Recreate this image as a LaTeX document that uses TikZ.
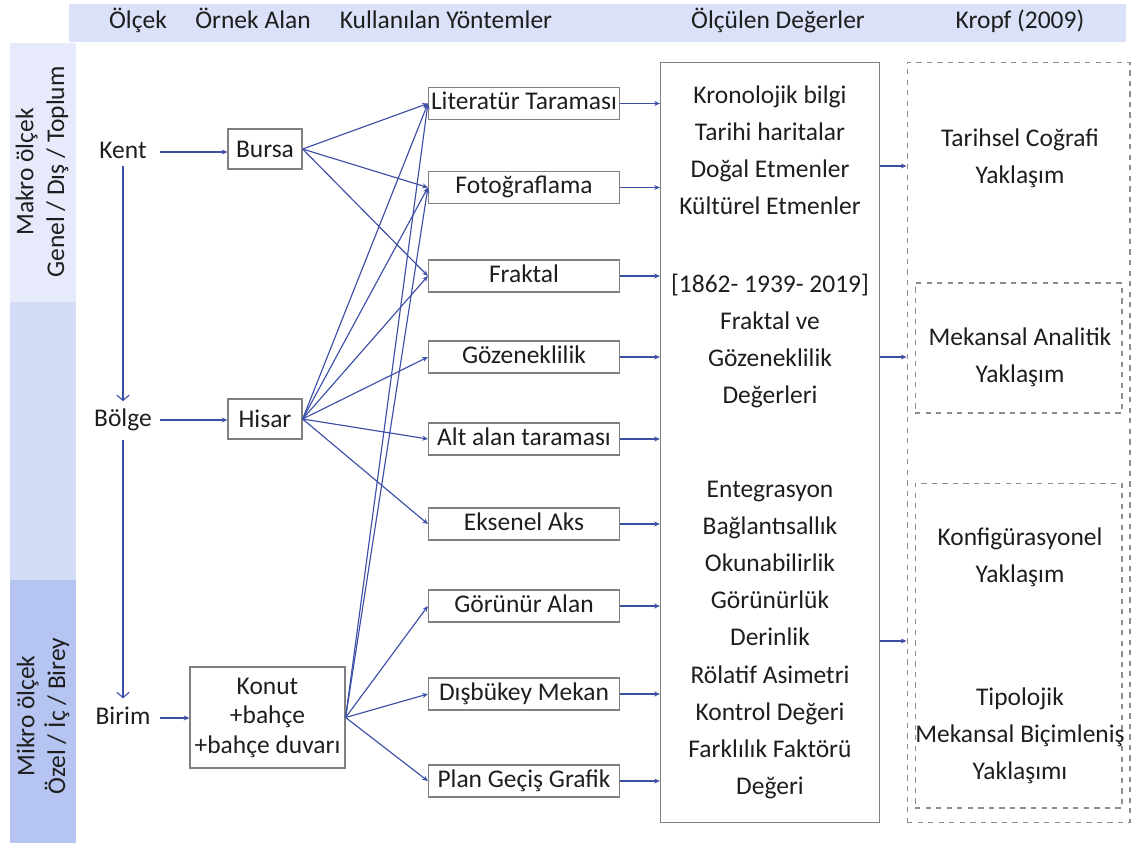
\documentclass[tikz,border=0pt]{standalone}
\usepackage{fontspec}
\setmainfont{Carlito}
\usepackage{tikz}
\usetikzlibrary{arrows.meta}
\definecolor{headfill}{RGB}{218,225,249}
\definecolor{makrofill}{RGB}{230,234,251}
\definecolor{midfill}{RGB}{212,220,248}
\definecolor{mikrofill}{RGB}{181,196,240}
\definecolor{txt}{RGB}{30,30,30}
\definecolor{boxgray}{RGB}{128,128,128}
\definecolor{dashgray}{RGB}{140,140,140}
\definecolor{linkblue}{RGB}{60,78,165}
\tikzstyle{band}=[draw=none]
\tikzstyle{headtext}=[text=txt,inner sep=0pt,text height=10pt,text depth=3pt,font=\fontsize{14.5}{17}\selectfont]
\tikzstyle{sidetext}=[text=txt,rotate=90,align=center,font=\fontsize{14.5}{17.5}\selectfont]
\tikzstyle{scaletext}=[text=txt,inner sep=0pt,minimum width=1.48cm,text height=10pt,text depth=3pt,font=\fontsize{14.5}{17}\selectfont]
\tikzstyle{areabox}=[draw=boxgray,line width=0.7pt,text=txt,align=center,inner sep=0pt,font=\fontsize{14.5}{16.8}\selectfont]
\tikzstyle{methodbox}=[draw=boxgray,line width=0.7pt,text=txt,minimum width=3.82cm,minimum height=0.64cm,inner sep=0pt,text height=10pt,text depth=3pt,font=\fontsize{14.5}{17}\selectfont]
\tikzstyle{valuebox}=[draw=boxgray,line width=0.7pt,minimum width=4.38cm,minimum height=15.2cm]
\tikzstyle{valuetext}=[text=txt,align=center,font=\fontsize{14.5}{21.1}\selectfont]
\tikzstyle{dashbox}=[draw=dashgray,dashed,line width=0.6pt]
\tikzstyle{link}=[color=linkblue,line width=0.65pt]
\tikzstyle{downlink}=[color=linkblue,line width=0.65pt,-{Straight Barb[length=3pt,width=7pt]}]

\begin{document}
\begin{tikzpicture}[x=0.02cm,y=-0.02cm,>={Stealth[length=3.2pt,width=2.8pt]}]

  \useasboundingbox (0,0) rectangle (1133,843);

  % BANDS
  \path[band,fill=headfill] (69,4) rectangle (1126,42);
  \path[band,fill=makrofill] (10,43) rectangle (76,302);
  \path[band,fill=midfill] (10,302) rectangle (76,580);
  \path[band,fill=mikrofill] (10,580) rectangle (76,843);

  % HEADER
  \node[headtext] (hscale) at (138,22) {Ölçek};
  \node[headtext] (harea) at (253,22) {Örnek Alan};
  \node[headtext] (hmethod) at (446,22) {Kullanılan Yöntemler};
  \node[headtext] (hvalue) at (778,22) {Ölçülen Değerler};
  \node[headtext] (hkropf) at (1020,22) {Kropf (2009)};

  % SIDE LABELS
  \node[sidetext] (makro) at (42,172) {Makro ölçek\\Genel / Dış / Toplum};
  \node[sidetext] (mikro) at (43,716) {Mikro ölçek\\Özel / İç / Birey};

  % SCALE
  \node[scaletext] (kent) at (123,152) {Kent};
  \node[scaletext] (bolge) at (123,420) {Bölge};
  \node[scaletext] (birim) at (123,718) {Birim};
  \draw[downlink,shorten <=1.5pt,shorten >=4pt] (kent) -- (bolge);
  \draw[downlink,shorten <=4.5pt,shorten >=4.5pt] (bolge) -- (birim);

  % SAMPLE AREA
  \node[areabox,minimum width=1.48cm,minimum height=0.8cm] (bursa) at (265,149) {Bursa};
  \node[areabox,minimum width=1.48cm,minimum height=0.8cm] (hisar) at (265,419) {Hisar};
  \node[areabox,minimum width=3.1cm,minimum height=2.02cm] (konut) at (267.5,717.5) {Konut\\+bahçe\\+bahçe duvarı};
  \draw[link,->] (kent.east) -- (bursa.west |- kent.east);
  \draw[link,->] (bolge.east) -- (hisar.west |- bolge.east);
  \draw[link,->] (birim.east) -- (konut.west |- birim.east);

  % METHODS
  \node[methodbox] (lit) at (524,103.5) {Literatür Taraması};
  \node[methodbox] (foto) at (524,187.5) {Fotoğraflama};
  \node[methodbox] (frak) at (524,276) {Fraktal};
  \node[methodbox] (goz) at (524,357) {Gözeneklilik};
  \node[methodbox] (alt) at (524,439) {Alt alan taraması};
  \node[methodbox] (eks) at (524,524) {Eksenel Aks};
  \node[methodbox] (gor) at (524,606) {Görünür Alan};
  \node[methodbox] (dis) at (524,694) {Dışbükey Mekan};
  \node[methodbox] (plan) at (524,781) {Plan Geçiş Grafik};

  \draw[link,->] (bursa.east) -- (lit.west);
  \draw[link,->] (bursa.east) -- (foto.west);
  \draw[link,->] (bursa.east) -- (frak.west);
  \draw[link,->] (hisar.east) -- (lit.west);
  \draw[link,->] (hisar.east) -- (foto.west);
  \draw[link,->] (hisar.east) -- (frak.west);
  \draw[link,->] (hisar.east) -- (goz.west);
  \draw[link,->] (hisar.east) -- (alt.west);
  \draw[link,->] (hisar.east) -- (eks.west);
  \draw[link,->] (konut.east) -- (lit.west);
  \draw[link,->] (konut.east) -- (foto.west);
  \draw[link,->] (konut.east) -- (gor.west);
  \draw[link,->] (konut.east) -- (dis.west);
  \draw[link,->] (konut.east) -- (plan.west);

  % MEASURED VALUES
  \node[valuebox] (values) at (770,442.5) {};
  \node[valuetext] (vhist) at (770,150) {Kronolojik bilgi\\Tarihi haritalar\\Doğal Etmenler\\Kültürel Etmenler};
  \node[valuetext] (vfrak) at (770,341) {[1862- 1939- 2019]\\Fraktal ve\\Gözeneklilik\\Değerleri};
  \node[valuetext] (vsyn) at (770,640) {Entegrasyon\\Bağlantısallık\\Okunabilirlik\\Görünürlük\\Derinlik\\Rölatif Asimetri\\Kontrol Değeri\\Farklılık Faktörü\\Değeri};

  \draw[link,->] (lit.east) -- (values.west |- lit.east);
  \draw[link,->] (foto.east) -- (values.west |- foto.east);
  \draw[link,->] (frak.east) -- (values.west |- frak.east);
  \draw[link,->] (goz.east) -- (values.west |- goz.east);
  \draw[link,->] (alt.east) -- (values.west |- alt.east);
  \draw[link,->] (eks.east) -- (values.west |- eks.east);
  \draw[link,->] (gor.east) -- (values.west |- gor.east);
  \draw[link,->] (dis.east) -- (values.west |- dis.east);
  \draw[link,->] (plan.east) -- (values.west |- plan.east);

  % KROPF (2009)
  \node[dashbox,minimum width=4.46cm,minimum height=15.2cm] (kropf) at (1018.5,442.5) {};
  \node[dashbox,minimum width=4.14cm,minimum height=2.6cm] (analbox) at (1018.5,348) {};
  \node[dashbox,minimum width=4.14cm,minimum height=6.5cm] (confbox) at (1018.5,645.5) {};
  \node[valuetext] (tarihsel) at (1020,158) {Tarihsel Coğrafi\\Yaklaşım};
  \node[valuetext] (mekansal) at (1020,357) {Mekansal Analitik\\Yaklaşım};
  \node[valuetext] (konfig) at (1020,557) {Konfigürasyonel\\Yaklaşım};
  \node[valuetext] (tipo) at (1020,736) {Tipolojik\\Mekansal Biçimleniş\\Yaklaşımı};

  \draw[link,->] (values.east |- 0,166) -- (kropf.west |- 0,166);
  \draw[link,->] (values.east |- mekansal) -- (kropf.west |- mekansal);
  \draw[link,->] (values.east |- 0,641) -- (kropf.west |- 0,641);

\end{tikzpicture}
\end{document}
